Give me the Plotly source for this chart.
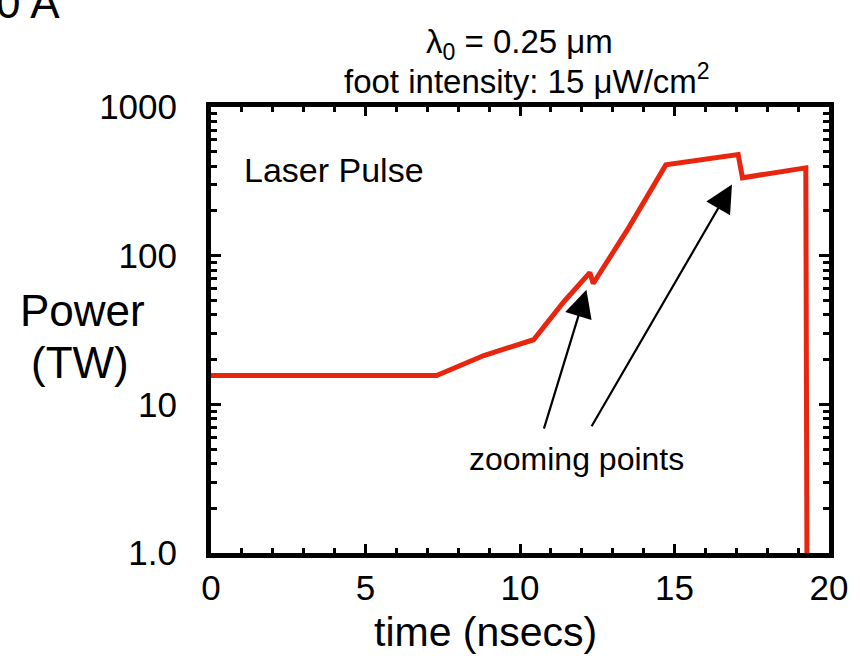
import plotly.graph_objects as go
import math

# ---- data ----
time_ns = [0, 7.3, 8.83, 10.44, 11.42, 12.26, 12.37, 13.5, 14.72, 17.06, 17.2, 19.25, 19.29]
power_tw = [15.6, 15.6, 21.3, 27.2, 49, 77, 65, 152, 408, 479, 334, 390, 0.5]

x_ticks = [0, 5, 10, 15, 20]
y_tickvals = [1, 10, 100, 1000]
y_ticktext = ["1.0", "10", "100", "1000"]
y_minor = [m * 10 ** e for e in range(0, 3) for m in range(2, 10)]

FONT = "Liberation Sans, Arial, Helvetica, sans-serif"
RED = "#E8260F"

W, H = 860, 658
L, R, T, B = 211, 829, 107, 553  # plot frame in pixels

fig = go.Figure()
fig.add_trace(go.Scatter(x=time_ns, y=power_tw, mode="lines",
                         line=dict(color=RED, width=5), showlegend=False))

def px(xp):
    return (xp - L) / (R - L)

def py(yp):
    return (B - yp) / (B - T)

def txt(text, xp, yp, size, xanchor="center"):
    return dict(text=text, x=px(xp), y=py(yp), xref="paper", yref="paper",
                xanchor=xanchor, yanchor="middle", showarrow=False,
                font=dict(size=size, family=FONT, color="black"))

annotations = [
    txt("λ<sub>0</sub> = 0.25 μm", 519, 44, 33),
    txt("foot intensity: 15 μW/cm<sup>2</sup>", 527, 79, 33),
    txt("0 A", 62, 2, 44, xanchor="right"),
    txt("Power", 82, 310, 44),
    txt("(TW)", 80, 362, 44),
    txt("Laser Pulse", 242, 170, 34, xanchor="left"),
    txt("zooming points", 576, 459, 32),
    txt("time (nsecs)", 485, 632, 41),
    dict(text="", x=12.15, y=math.log10(59), ax=10.76, ay=math.log10(6.7),
         xref="x", yref="y", axref="x", ayref="y", showarrow=True,
         arrowhead=2, arrowsize=2.5, arrowwidth=2.2, arrowcolor="black"),
    dict(text="", x=16.86, y=math.log10(301), ax=12.29, ay=math.log10(6.95),
         xref="x", yref="y", axref="x", ayref="y", showarrow=True,
         arrowhead=2, arrowsize=2.5, arrowwidth=2.2, arrowcolor="black"),
]

fig.update_layout(
    width=W, height=H,
    margin=dict(l=L, r=W - R, t=T, b=H - B, pad=0),
    paper_bgcolor="white", plot_bgcolor="white",
    annotations=annotations,
    font=dict(family=FONT, color="black"),
    xaxis=dict(
        range=[0, 20], tickvals=x_ticks, ticks="inside", ticklen=9, tickwidth=2.5,
        tickcolor="black", showline=True, linewidth=5, linecolor="black", mirror="allticks",
        showgrid=False, zeroline=False, tickfont=dict(size=35, family=FONT),
        minor=dict(dtick=1, ticks="inside", ticklen=5, tickwidth=2.5, tickcolor="black", showgrid=False),
        ticklabelstandoff=0,
    ),
    yaxis=dict(
        type="log", range=[0, 3], tickvals=y_tickvals, ticktext=y_ticktext,
        ticks="inside", ticklen=10, tickwidth=2.5, tickcolor="black",
        showline=True, linewidth=5, linecolor="black", mirror="allticks",
        showgrid=False, zeroline=False, tickfont=dict(size=35, family=FONT),
        minor=dict(tickvals=y_minor, ticks="inside", ticklen=6, tickwidth=2.5, tickcolor="black", showgrid=False),
        ticklabelstandoff=22,
    ),
)

fig.write_html("out.html")
